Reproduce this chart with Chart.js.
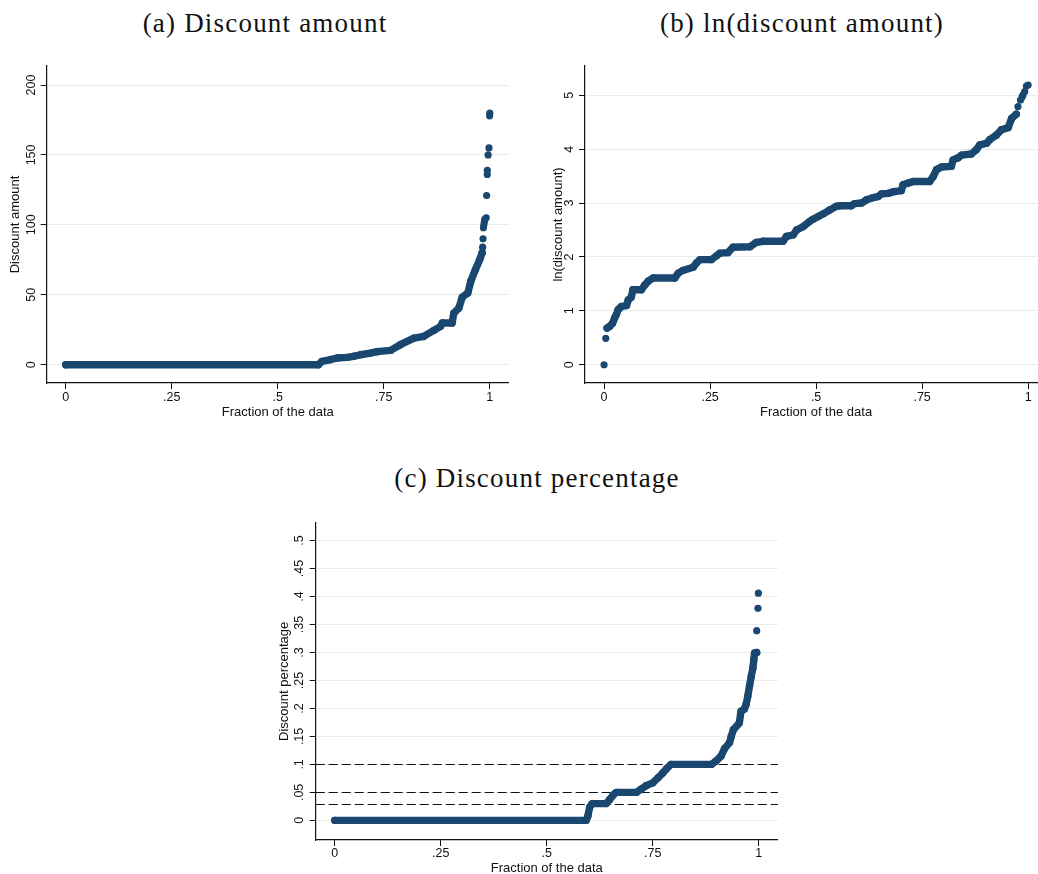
<!DOCTYPE html>
<html>
<head>
<meta charset="utf-8">
<script src="https://cdn.jsdelivr.net/npm/chart.js@4.4.1/dist/chart.umd.min.js"></script>
<style>
  html, body { margin: 0; padding: 0; background: #fff; }
  body { width: 1038px; height: 874px; overflow: hidden; position: relative; }
  .panel { position: absolute; }
  .title {
    position: absolute; width: 400px; text-align: center;
    font-family: 'Liberation Serif', 'Times New Roman', serif;
    font-size: 27px; line-height: 27px; letter-spacing: 1.2px; color: #111;
  }
</style>
</head>
<body>
<div class="title" style="left:65px; top:10px;">(a) Discount amount</div>
<div class="title" style="left:602px; top:10px;">(b) ln(discount amount)</div>
<div class="title" style="left:337px; top:465px;">(c) Discount percentage</div>

<div class="panel" style="left:0; top:0;"><canvas id="chartA" width="520" height="440"></canvas></div>
<div class="panel" style="left:520px; top:0;"><canvas id="chartB" width="540" height="440"></canvas></div>
<div class="panel" style="left:260px; top:500px;"><canvas id="chartC" width="540" height="400"></canvas></div>

<script>
// shared x axis: fraction of the data
const fracTicks = [0, 0.25, 0.5, 0.75, 1];
const fracTickLabels = ['0', '.25', '.5', '.75', '1'];

// (a) discount amount, sorted
const amountTicks = [0, 50, 100, 150, 200];
const amountFrac = [0, 0.596, 0.604, 0.624, 0.640, 0.663, 0.679, 0.695, 0.718, 0.734, 0.766,
  0.789, 0.821, 0.844, 0.868, 0.884, 0.888, 0.911, 0.915, 0.927, 0.935, 0.948, 0.955,
  0.966, 0.976, 0.982];
const amountValue = [0, 0, 2.4, 3.6, 4.8, 5.2, 6.0, 7.1, 8.3, 9.3, 10.2,
  14.3, 19, 20.2, 24.5, 27.4, 29.8, 29.8, 36.9, 40.5, 48.3, 51.2, 59.5,
  67.9, 75, 80];
const amountTailFrac = [0.983, 0.984, 0.985, 0.986, 0.987, 0.988, 0.9915, 0.9925, 0.994, 0.994, 0.996, 0.998, 0.9995, 1.0];
const amountTailValue = [84, 90, 98, 100, 102, 104, 105, 121, 136, 139, 150, 155, 178, 180];

// (b) ln(discount amount), sorted
const lnTicks = [0, 1, 2, 3, 4, 5];
const lnFrac = [0.007, 0.013, 0.020, 0.025, 0.029, 0.033, 0.041, 0.053, 0.057, 0.064, 0.068,
  0.088, 0.096, 0.104, 0.116, 0.167, 0.175, 0.186, 0.210, 0.218, 0.226, 0.253, 0.265,
  0.273, 0.292, 0.304, 0.344, 0.359, 0.375, 0.422, 0.430, 0.446, 0.454, 0.469, 0.485,
  0.493, 0.505, 0.517, 0.532, 0.548, 0.556, 0.583, 0.591, 0.607, 0.619, 0.634, 0.646,
  0.654, 0.670, 0.682, 0.701, 0.705, 0.717, 0.729, 0.768, 0.776, 0.784, 0.796, 0.819,
  0.823, 0.835, 0.843, 0.866, 0.878, 0.886, 0.902, 0.910, 0.925, 0.937, 0.953, 0.961, 0.972];
const lnValue = [0.68, 0.71, 0.77, 0.87, 0.93, 1.02, 1.08, 1.10, 1.20, 1.25, 1.39,
  1.39, 1.48, 1.55, 1.61, 1.61, 1.70, 1.75, 1.81, 1.89, 1.95, 1.95, 2.02,
  2.07, 2.08, 2.18, 2.19, 2.27, 2.29, 2.29, 2.38, 2.41, 2.50, 2.56, 2.66,
  2.70, 2.75, 2.80, 2.87, 2.94, 2.95, 2.95, 2.99, 3.00, 3.06, 3.10, 3.12,
  3.17, 3.18, 3.21, 3.23, 3.34, 3.37, 3.40, 3.40, 3.49, 3.62, 3.67, 3.68,
  3.80, 3.84, 3.89, 3.91, 3.99, 4.08, 4.11, 4.18, 4.26, 4.36, 4.40, 4.57, 4.65];
const lnTailFrac = [0, 0.004, 0.976, 0.982, 0.986, 0.988, 0.992, 0.996, 1.0];
const lnTailValue = [0, 0.49, 4.79, 4.91, 4.97, 5.01, 5.07, 5.17, 5.19];

// (c) discount percentage, sorted
const pctTicks = [0, 0.05, 0.1, 0.15, 0.2, 0.25, 0.3, 0.35, 0.4, 0.45, 0.5];
const pctTickLabels = ['0', '.05', '.1', '.15', '.2', '.25', '.3', '.35', '.4', '.45', '.5'];
const pctRefLevels = [0.03, 0.05, 0.1];
const pctFrac = [0, 0.593, 0.597, 0.601, 0.607, 0.640, 0.648, 0.656, 0.664, 0.711, 0.723,
  0.734, 0.750, 0.762, 0.774, 0.782, 0.793, 0.888, 0.899, 0.911, 0.919, 0.931, 0.935,
  0.940, 0.954, 0.958, 0.966, 0.970, 0.974, 0.978, 0.982, 0.986, 0.988, 0.990, 0.995];
const pctValue = [0, 0, 0.008, 0.023, 0.03, 0.03, 0.037, 0.045, 0.05, 0.05, 0.056,
  0.062, 0.067, 0.076, 0.085, 0.092, 0.1, 0.1, 0.106, 0.115, 0.128, 0.139, 0.150,
  0.162, 0.174, 0.195, 0.199, 0.207, 0.222, 0.240, 0.257, 0.272, 0.286, 0.299, 0.300];
const pctTailFrac = [0.995, 0.998, 0.999];
const pctTailValue = [0.339, 0.379, 0.406];

const NAVY = '#1a476f';
const SANS = "'Liberation Sans', Arial, sans-serif";
Chart.defaults.font.family = SANS;
Chart.defaults.color = '#111';

const pts = (xs, ys) => xs.map((x, i) => ({ x: x, y: ys[i] }));

// dashed horizontal reference lines (yline)
const refLines = {
  id: 'refLines',
  beforeDatasetsDraw(chart, args, opts) {
    if (!opts.levels) return;
    const { ctx, chartArea, scales } = chart;
    ctx.save();
    ctx.setLineDash([9, 4]);
    ctx.lineWidth = 1.2;
    ctx.strokeStyle = '#111';
    opts.levels.forEach(v => {
      const py = Math.round(scales.y.getPixelForValue(v)) + 0.5;
      ctx.beginPath();
      ctx.moveTo(chartArea.left, py);
      ctx.lineTo(chartArea.right, py);
      ctx.stroke();
    });
    ctx.restore();
  }
};

function quantileChart(id, o) {
  return new Chart(document.getElementById(id), {
    type: 'scatter',
    data: {
      datasets: [
        {
          data: pts(o.frac, o.vals),
          showLine: true,
          borderColor: NAVY,
          backgroundColor: NAVY,
          borderWidth: 7.4,
          borderCapStyle: 'round',
          borderJoinStyle: 'round',
          pointRadius: 3.7,
          pointBorderWidth: 0,
          tension: 0
        },
        {
          data: pts(o.tailFrac, o.tailVals),
          showLine: false,
          backgroundColor: NAVY,
          pointRadius: 3.6,
          pointBorderWidth: 0
        }
      ]
    },
    plugins: [refLines],
    options: {
      responsive: false,
      animation: false,
      events: [],
      layout: { padding: o.pad },
      plugins: {
        legend: { display: false },
        tooltip: { enabled: false },
        refLines: { levels: o.refLevels }
      },
      scales: {
        x: {
          type: 'linear',
          min: -0.045,
          max: 1.045,
          afterBuildTicks: s => { s.ticks = fracTicks.map(v => ({ value: v })); },
          afterFit: s => { s.height = 40; },
          ticks: {
            autoSkip: false,
            maxRotation: 0,
            padding: o.xTickPad,
            font: { size: 12.5 },
            color: '#111',
            callback: v => fracTickLabels[fracTicks.indexOf(v)]
          },
          grid: { drawOnChartArea: false, tickLength: 6, tickColor: '#111' },
          border: { display: true, color: '#111', width: 1.2 },
          title: {
            display: true, text: 'Fraction of the data',
            font: { size: 13 }, color: '#111',
            padding: { top: 0, bottom: o.xTitlePad }
          }
        },
        y: {
          type: 'linear',
          min: o.yMin,
          max: o.yMax,
          afterBuildTicks: s => { s.ticks = o.yTicks.map(v => ({ value: v })); },
          afterFit: s => { s.width = o.yWidth; },
          ticks: {
            autoSkip: false,
            minRotation: 90,
            maxRotation: 90,
            crossAlign: 'center',
            padding: o.yTickPad,
            font: { size: 12.5 },
            color: '#111',
            callback: v => o.yLabels ? o.yLabels[o.yTicks.indexOf(v)] : String(v)
          },
          grid: { color: '#e4edf0', lineWidth: 1, tickLength: 6, tickColor: '#111' },
          border: { display: true, color: '#111', width: 1.2 },
          title: {
            display: true, text: o.yTitle,
            font: { size: 13 }, color: '#111',
            padding: { top: o.yTitlePad, bottom: 0 }
          }
        }
      }
    }
  });
}

quantileChart('chartA', {
  frac: amountFrac, vals: amountValue, tailFrac: amountTailFrac, tailVals: amountTailValue,
  yTicks: amountTicks, yMin: -13.1, yMax: 213.6, yTitle: 'Discount amount',
  yWidth: 46.7, yTickPad: -1.4, yTitlePad: 7.5, xTickPad: 1.5, xTitlePad: 2.7,
  pad: { left: 0, top: 66, right: 11.1, bottom: 17 }
});

quantileChart('chartB', {
  frac: lnFrac, vals: lnValue, tailFrac: lnTailFrac, tailVals: lnTailValue,
  yTicks: lnTicks, yMin: -0.339, yMax: 5.543, yTitle: 'ln(discount amount)',
  yWidth: 65, yTickPad: 6.2, yTitlePad: 30.5, xTickPad: 1.5, xTitlePad: 2.7,
  pad: { left: 0, top: 66, right: 12.8, bottom: 17 }
});

quantileChart('chartC', {
  frac: pctFrac, vals: pctValue, tailFrac: pctTailFrac, tailVals: pctTailValue,
  yTicks: pctTicks, yLabels: pctTickLabels, yMin: -0.0351, yMax: 0.532,
  yTitle: 'Discount percentage', refLevels: pctRefLevels,
  yWidth: 55.7, yTickPad: 1.0, yTitlePad: 16.2, xTickPad: 0.5, xTitlePad: 3.9,
  pad: { left: 0, top: 22.7, right: 22.1, bottom: 20 }
});
</script>
</body>
</html>
